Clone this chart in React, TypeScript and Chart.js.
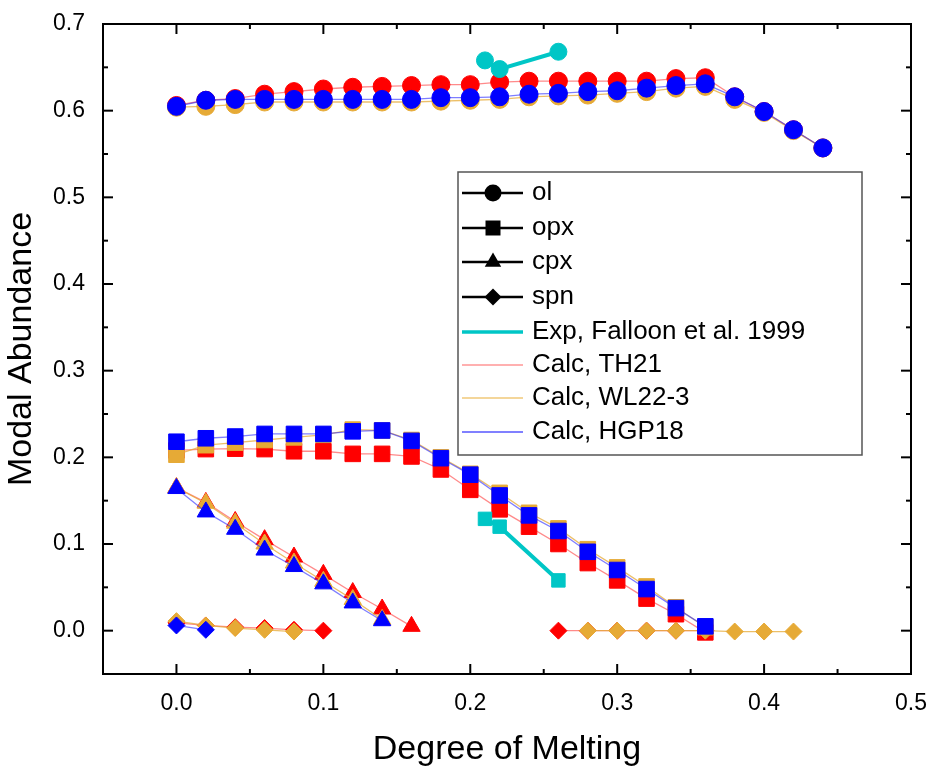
import React, { useEffect, useRef } from 'react';
import { Chart, registerables } from 'chart.js';

Chart.register(...registerables);

const FONT = "'Liberation Sans', Arial, Helvetica, sans-serif";

// ---------- data ----------
const X_OL = [0, 0.02, 0.04, 0.06, 0.08, 0.1, 0.12, 0.14, 0.16, 0.18, 0.2, 0.22, 0.24, 0.26, 0.28, 0.3, 0.32, 0.34, 0.36, 0.38, 0.4, 0.42, 0.44];
const OL_TH21 = [0.606, 0.612, 0.614, 0.619, 0.622, 0.625, 0.627, 0.628, 0.629, 0.63, 0.63, 0.633, 0.634, 0.634, 0.634, 0.634, 0.634, 0.637, 0.638, 0.616, 0.599, 0.578, 0.557];
const OL_WL22 = [0.604, 0.605, 0.607, 0.61, 0.61, 0.61, 0.61, 0.61, 0.61, 0.611, 0.612, 0.613, 0.616, 0.617, 0.618, 0.62, 0.622, 0.626, 0.628, 0.613, 0.598, 0.577, 0.557];
const OL_HGP18 = [0.605, 0.612, 0.613, 0.613, 0.613, 0.613, 0.613, 0.613, 0.613, 0.615, 0.615, 0.616, 0.619, 0.62, 0.622, 0.623, 0.626, 0.629, 0.631, 0.616, 0.599, 0.578, 0.557];

const X_OPX = [0, 0.02, 0.04, 0.06, 0.08, 0.1, 0.12, 0.14, 0.16, 0.18, 0.2, 0.22, 0.24, 0.26, 0.28, 0.3, 0.32, 0.34, 0.36];
const OPX_TH21 = [0.208, 0.2095, 0.21, 0.2095, 0.207, 0.207, 0.204, 0.204, 0.201, 0.186, 0.1625, 0.14, 0.12, 0.1, 0.078, 0.058, 0.037, 0.019, -0.002];
const OPX_WL22 = [0.203, 0.214, 0.217, 0.22, 0.223, 0.226, 0.232, 0.231, 0.22, 0.2, 0.181, 0.159, 0.136, 0.118, 0.094, 0.073, 0.051, 0.027, 0.004];
const OPX_HGP18 = [0.218, 0.222, 0.224, 0.227, 0.227, 0.227, 0.23, 0.231, 0.219, 0.199, 0.18, 0.156, 0.133, 0.115, 0.091, 0.07, 0.048, 0.026, 0.005];

const X_CPX_TH21 = [0, 0.02, 0.04, 0.06, 0.08, 0.1, 0.12, 0.14, 0.16];
const CPX_TH21 = [0.165, 0.148, 0.126, 0.105, 0.085, 0.065, 0.044, 0.025, 0.005];
const X_CPX = [0, 0.02, 0.04, 0.06, 0.08, 0.1, 0.12, 0.14];
const CPX_WL22 = [0.165, 0.147, 0.124, 0.1, 0.078, 0.057, 0.036, 0.013];
const CPX_HGP18 = [0.164, 0.137, 0.117, 0.093, 0.074, 0.054, 0.032, 0.0115];

const X_SPN_TH21 = [0, 0.02, 0.04, 0.06, 0.08, 0.1, 0.18, 0.26, 0.28, 0.3, 0.32, 0.34, 0.36];
const SPN_TH21 = [0.009, 0.006, 0.004, 0.003, 0.001, 0.0, null, 0.0, 0.0, 0.0, 0.0, 0.0, 0.0];
const X_SPN_WL22 = [0, 0.02, 0.04, 0.06, 0.08, 0.18, 0.28, 0.3, 0.32, 0.34, 0.36, 0.38, 0.4, 0.42];
const SPN_WL22 = [0.011, 0.006, 0.003, 0.001, -0.001, null, 0.0, 0.0, 0.0, 0.0, 0.0, -0.001, -0.001, -0.001];
const X_SPN_HGP18 = [0, 0.02];
const SPN_HGP18 = [0.006, 0.001];

const X_EXP = [0.21, 0.22, 0.26];
const OL_EXP = [0.658, 0.648, 0.668];
const OPX_EXP = [0.129, 0.12, 0.058];

const X_TICKS = [0, 0.1, 0.2, 0.3, 0.4, 0.5];
const Y_TICKS = [0, 0.1, 0.2, 0.3, 0.4, 0.5, 0.6, 0.7];
const X_MINOR = [0.05, 0.15, 0.25, 0.35, 0.45];
const Y_MINOR = [0.05, 0.15, 0.25, 0.35, 0.45, 0.55, 0.65];

const LEGEND_MINERALS = ['ol', 'opx', 'cpx', 'spn'];
const LEGEND_MODELS = ['Exp, Falloon et al. 1999', 'Calc, TH21', 'Calc, WL22-3', 'Calc, HGP18'];

// ---------- styles ----------
const RED = '#FF0000';
const GOLD = '#E6AA36';
const BLUE = '#0000FF';
const CYAN = '#00C6C6';
const RED_LINE = 'rgba(255,60,60,0.6)';
const GOLD_LINE = 'rgba(230,170,54,0.75)';
const BLUE_LINE = 'rgba(40,40,255,0.6)';

const pts = (xs: number[], ys: (number | null)[]) => xs.map((x, i) => ({ x, y: ys[i] }));

function ds(label: string, xs: number[], ys: (number | null)[], color: string, line: string, style: string, r: number, order: number, lw = 1.3) {
  return {
    label,
    data: pts(xs, ys),
    borderColor: line,
    backgroundColor: color,
    borderWidth: lw,
    pointStyle: style,
    pointRadius: r,
    pointBorderWidth: 1,
    pointBorderColor: color,
    pointBackgroundColor: color,
    spanGaps: false,
    order,
    clip: false as any,
  };
}

function drawMarker(ctx: CanvasRenderingContext2D, style: string, x: number, y: number, r: number) {
  ctx.beginPath();
  if (style === 'circle') {
    ctx.arc(x, y, r, 0, Math.PI * 2);
  } else if (style === 'rect') {
    const s = r * Math.SQRT1_2;
    ctx.rect(x - s, y - s, 2 * s, 2 * s);
  } else if (style === 'triangle') {
    ctx.moveTo(x, y - r);
    ctx.lineTo(x + r * Math.sin(Math.PI / 3), y + r / 2);
    ctx.lineTo(x - r * Math.sin(Math.PI / 3), y + r / 2);
    ctx.closePath();
  } else {
    ctx.moveTo(x, y - r);
    ctx.lineTo(x + r, y);
    ctx.lineTo(x, y + r);
    ctx.lineTo(x - r, y);
    ctx.closePath();
  }
  ctx.fill();
}

const framePlugin = {
  id: 'frameTicks',
  afterDraw(chart: any) {
    const { ctx, chartArea } = chart;
    const { left, right, top, bottom } = chartArea;
    const xs = chart.scales.x;
    const ys = chart.scales.y;
    ctx.save();
    ctx.strokeStyle = '#000';
    ctx.lineWidth = 2;
    ctx.strokeRect(left, top, right - left, bottom - top);
    const tick = (x1: number, y1: number, x2: number, y2: number) => {
      ctx.beginPath();
      ctx.moveTo(x1, y1);
      ctx.lineTo(x2, y2);
      ctx.stroke();
    };
    X_TICKS.forEach((v) => {
      const p = xs.getPixelForValue(v);
      tick(p, bottom, p, bottom - 10);
      tick(p, top, p, top + 10);
    });
    X_MINOR.forEach((v) => {
      const p = xs.getPixelForValue(v);
      tick(p, bottom, p, bottom - 5);
      tick(p, top, p, top + 5);
    });
    Y_TICKS.forEach((v) => {
      const p = ys.getPixelForValue(v);
      tick(left, p, left + 10, p);
      tick(right, p, right - 10, p);
    });
    Y_MINOR.forEach((v) => {
      const p = ys.getPixelForValue(v);
      tick(left, p, left + 5, p);
      tick(right, p, right - 5, p);
    });
    ctx.restore();
  },
};

const legendPlugin = {
  id: 'customLegend',
  afterDraw(chart: any) {
    const ctx: CanvasRenderingContext2D = chart.ctx;
    ctx.save();
    const bx = 458, by = 172, bw = 404, bh = 283;
    ctx.fillStyle = '#fff';
    ctx.fillRect(bx, by, bw, bh);
    ctx.strokeStyle = '#555';
    ctx.lineWidth = 1.5;
    ctx.strokeRect(bx, by, bw, bh);
    const rows = [193, 228, 262, 297, 332, 365, 398, 432];
    const x1 = 462, x2 = 523, xm = 493, xt = 532;
    ctx.font = `26px ${FONT}`;
    ctx.textBaseline = 'middle';
    ctx.textAlign = 'left';
    const styles = ['circle', 'rect', 'triangle', 'rectRot'];
    const radii = [8.5, 10.6, 9.5, 8.5];
    LEGEND_MINERALS.forEach((lab, i) => {
      const y = rows[i];
      ctx.strokeStyle = '#000';
      ctx.lineWidth = 2.5;
      ctx.beginPath();
      ctx.moveTo(x1, y);
      ctx.lineTo(x2, y);
      ctx.stroke();
      ctx.fillStyle = '#000';
      drawMarker(ctx, styles[i], xm, y, radii[i]);
      ctx.fillText(lab, xt, y);
    });
    const lineCols = [CYAN, '#FFB0B0', '#F0C878', '#8080FF'];
    const lineW = [3.5, 2, 1.5, 2];
    LEGEND_MODELS.forEach((lab, i) => {
      const y = rows[i + 4];
      ctx.strokeStyle = lineCols[i];
      ctx.lineWidth = lineW[i];
      ctx.beginPath();
      ctx.moveTo(x1, y);
      ctx.lineTo(x2, y);
      ctx.stroke();
      ctx.fillStyle = '#000';
      ctx.fillText(lab, xt, y);
    });
    ctx.restore();
  },
};

export default function App() {
  const ref = useRef<HTMLCanvasElement | null>(null);

  useEffect(() => {
    if (!ref.current) return;
    const datasets: any[] = [
      // Experiments
      ds('Exp ol', X_EXP, OL_EXP, CYAN, CYAN, 'circle', 8.5, 0, 4),
      ds('Exp opx', X_EXP, OPX_EXP, CYAN, CYAN, 'rect', 9.5, 0, 4),
      // HGP18 (blue, top)
      ds('HGP18 ol', X_OL, OL_HGP18, BLUE, BLUE_LINE, 'circle', 9, 1),
      ds('HGP18 opx', X_OPX, OPX_HGP18, BLUE, BLUE_LINE, 'rect', 11, 1),
      ds('HGP18 cpx', X_CPX, CPX_HGP18, BLUE, BLUE_LINE, 'triangle', 10, 1),
      ds('HGP18 spn', X_SPN_HGP18, SPN_HGP18, BLUE, BLUE_LINE, 'rectRot', 8.5, 1),
      // WL22-3 (gold)
      ds('WL22 ol', X_OL, OL_WL22, GOLD, GOLD_LINE, 'circle', 9, 2),
      ds('WL22 opx', X_OPX, OPX_WL22, GOLD, GOLD_LINE, 'rect', 11, 2),
      ds('WL22 cpx', X_CPX, CPX_WL22, GOLD, GOLD_LINE, 'triangle', 10, 2),
      ds('WL22 spn', X_SPN_WL22, SPN_WL22, GOLD, GOLD_LINE, 'rectRot', 8.5, 2),
      // TH21 (red)
      ds('TH21 ol', X_OL, OL_TH21, RED, RED_LINE, 'circle', 9, 3),
      ds('TH21 opx', X_OPX, OPX_TH21, RED, RED_LINE, 'rect', 11, 3),
      ds('TH21 cpx', X_CPX_TH21, CPX_TH21, RED, RED_LINE, 'triangle', 10, 3),
      ds('TH21 spn', X_SPN_TH21, SPN_TH21, RED, RED_LINE, 'rectRot', 8.5, 3),
    ];

    const chart = new Chart(ref.current, {
      type: 'line',
      data: { datasets },
      plugins: [framePlugin, legendPlugin],
      options: {
        animation: false,
        responsive: false,
        devicePixelRatio: 1,
        layout: { padding: { top: 24, right: 18, left: 0, bottom: 0 } },
        plugins: { legend: { display: false }, tooltip: { enabled: false } },
        scales: {
          x: {
            type: 'linear',
            min: -0.05,
            max: 0.5,
            afterBuildTicks: (s: any) => {
              s.ticks = X_TICKS.map((v) => ({ value: v }));
            },
            afterFit: (s: any) => {
              s.height = 93;
              s.paddingLeft = 0;
              s.paddingRight = 0;
            },
            grid: { display: false, drawTicks: false },
            border: { display: false },
            ticks: {
              autoSkip: false,
              maxRotation: 0,
              padding: 16,
              color: '#000',
              font: { family: FONT, size: 23 },
              callback: (v: any) => Number(v).toFixed(1),
            },
            title: {
              display: true,
              text: 'Degree of Melting',
              color: '#000',
              font: { family: FONT, size: 34, lineHeight: 1 },
              padding: { top: 0, bottom: 0 },
            },
          },
          y: {
            type: 'linear',
            min: -0.05,
            max: 0.7,
            afterBuildTicks: (s: any) => {
              s.ticks = Y_TICKS.map((v) => ({ value: v }));
            },
            afterFit: (s: any) => {
              s.width = 103;
              s.paddingTop = 0;
              s.paddingBottom = 0;
            },
            grid: { display: false, drawTicks: false },
            border: { display: false },
            ticks: {
              autoSkip: false,
              padding: 18,
              color: '#000',
              font: { family: FONT, size: 23 },
              callback: (v: any) => Number(v).toFixed(1),
            },
            title: {
              display: true,
              text: 'Modal Abundance',
              color: '#000',
              font: { family: FONT, size: 34, lineHeight: 1 },
              padding: { top: 5, bottom: 0 },
            },
          },
        },
      } as any,
    });
    return () => chart.destroy();
  }, []);

  return (
    <canvas
      ref={ref}
      width={929}
      height={767}
      style={{ position: 'fixed', left: 0, top: 0, width: 929, height: 767, display: 'block', background: '#fff' }}
    />
  );
}
